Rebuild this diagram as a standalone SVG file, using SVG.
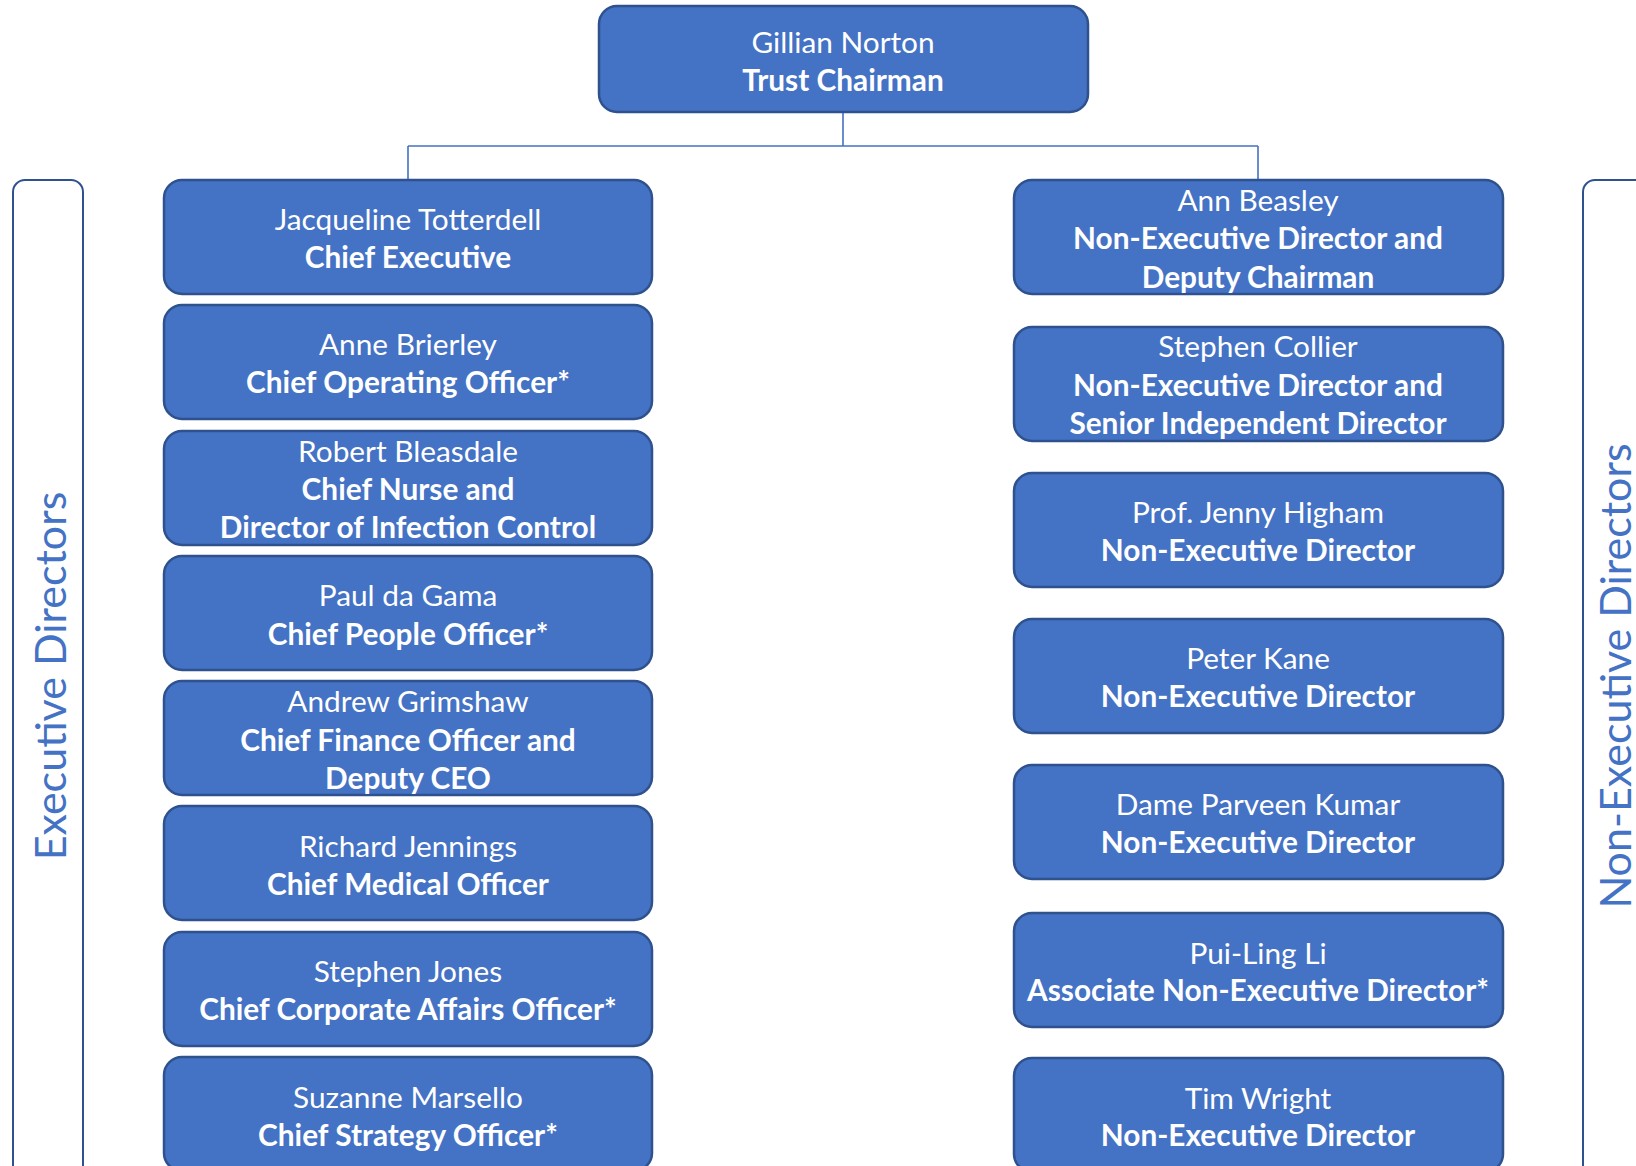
<svg xmlns="http://www.w3.org/2000/svg" width="1636" height="1166" viewBox="0 0 1636 1166">
<style>
.box{fill:#4472C4;stroke:#2F528F;stroke-width:2.5}
.t{font-family:Lato,"Liberation Sans",sans-serif;font-size:29.8px;fill:#FFFFFF;text-anchor:middle}
.b{font-weight:bold}
.side{fill:none;stroke:#2F528F;stroke-width:2}
.lab{font-family:Lato,"Liberation Sans",sans-serif;font-size:43px;fill:#4472C4;text-anchor:middle}
.conn{fill:none;stroke:#4472C4;stroke-width:1.6}
</style>
<rect width="1636" height="1166" fill="#FFFFFF"/>
<g id="connectors">
<path class="conn" d="M843 112 V146 M408 146 H1258 M408 146 V180 M1258 146 V180"/>
</g>
<g id="exec-bracket">
<rect class="side" x="13" y="180" width="70" height="1000" rx="12"/>
<text class="lab" transform="translate(66 676) rotate(-90)">Executive Directors</text>
</g>
<g id="nonexec-bracket">
<rect class="side" x="1583" y="180" width="100" height="1000" rx="12"/>
<text class="lab" transform="translate(1631 676) rotate(-90)">Non-Executive Directors</text>
</g>
<g id="chair">
<rect class="box" x="599" y="6" width="489" height="106" rx="18"/>
<text class="t" x="843" y="53">Gillian Norton</text>
<text class="t b" x="843" y="91">Trust Chairman</text>
</g>
<g id="e1">
<rect class="box" x="164" y="180" width="488" height="114" rx="18"/>
<text class="t" x="408" y="230">Jacqueline Totterdell</text>
<text class="t b" x="408" y="268">Chief Executive</text>
</g>
<g id="e2">
<rect class="box" x="164" y="305" width="488" height="114" rx="18"/>
<text class="t" x="408" y="355">Anne Brierley</text>
<text class="t b" x="408" y="393">Chief Operating Officer*</text>
</g>
<g id="e3">
<rect class="box" x="164" y="431" width="488" height="114" rx="18"/>
<text class="t" x="408" y="462">Robert Bleasdale</text>
<text class="t b" x="408" y="500">Chief Nurse and</text>
<text class="t b" x="408" y="538">Director of Infection Control</text>
</g>
<g id="e4">
<rect class="box" x="164" y="556" width="488" height="114" rx="18"/>
<text class="t" x="408" y="606">Paul da Gama</text>
<text class="t b" x="408" y="645">Chief People Officer*</text>
</g>
<g id="e5">
<rect class="box" x="164" y="681" width="488" height="114" rx="18"/>
<text class="t" x="408" y="712">Andrew Grimshaw</text>
<text class="t b" x="408" y="751">Chief Finance Officer and</text>
<text class="t b" x="408" y="789">Deputy CEO</text>
</g>
<g id="e6">
<rect class="box" x="164" y="806" width="488" height="114" rx="18"/>
<text class="t" x="408" y="857">Richard Jennings</text>
<text class="t b" x="408" y="895">Chief Medical Officer</text>
</g>
<g id="e7">
<rect class="box" x="164" y="932" width="488" height="114" rx="18"/>
<text class="t" x="408" y="982">Stephen Jones</text>
<text class="t b" x="408" y="1020">Chief Corporate Affairs Officer*</text>
</g>
<g id="e8">
<rect class="box" x="164" y="1057" width="488" height="114" rx="18"/>
<text class="t" x="408" y="1108">Suzanne Marsello</text>
<text class="t b" x="408" y="1146">Chief Strategy Officer*</text>
</g>
<g id="n1">
<rect class="box" x="1014" y="180" width="489" height="114" rx="18"/>
<text class="t" x="1258" y="211">Ann Beasley</text>
<text class="t b" x="1258" y="249">Non-Executive Director and</text>
<text class="t b" x="1258" y="288">Deputy Chairman</text>
</g>
<g id="n2">
<rect class="box" x="1014" y="327" width="489" height="114" rx="18"/>
<text class="t" x="1258" y="357">Stephen Collier</text>
<text class="t b" x="1258" y="396">Non-Executive Director and</text>
<text class="t b" x="1258" y="434">Senior Independent Director</text>
</g>
<g id="n3">
<rect class="box" x="1014" y="473" width="489" height="114" rx="18"/>
<text class="t" x="1258" y="523">Prof. Jenny Higham</text>
<text class="t b" x="1258" y="561">Non-Executive Director</text>
</g>
<g id="n4">
<rect class="box" x="1014" y="619" width="489" height="114" rx="18"/>
<text class="t" x="1258" y="669">Peter Kane</text>
<text class="t b" x="1258" y="707">Non-Executive Director</text>
</g>
<g id="n5">
<rect class="box" x="1014" y="765" width="489" height="114" rx="18"/>
<text class="t" x="1258" y="815">Dame Parveen Kumar</text>
<text class="t b" x="1258" y="853">Non-Executive Director</text>
</g>
<g id="n6">
<rect class="box" x="1014" y="913" width="489" height="114" rx="18"/>
<text class="t" x="1258" y="964">Pui-Ling Li</text>
<text class="t b" x="1258" y="1001">Associate Non-Executive Director*</text>
</g>
<g id="n7">
<rect class="box" x="1014" y="1058" width="489" height="114" rx="18"/>
<text class="t" x="1258" y="1109">Tim Wright</text>
<text class="t b" x="1258" y="1146">Non-Executive Director</text>
</g>
</svg>
